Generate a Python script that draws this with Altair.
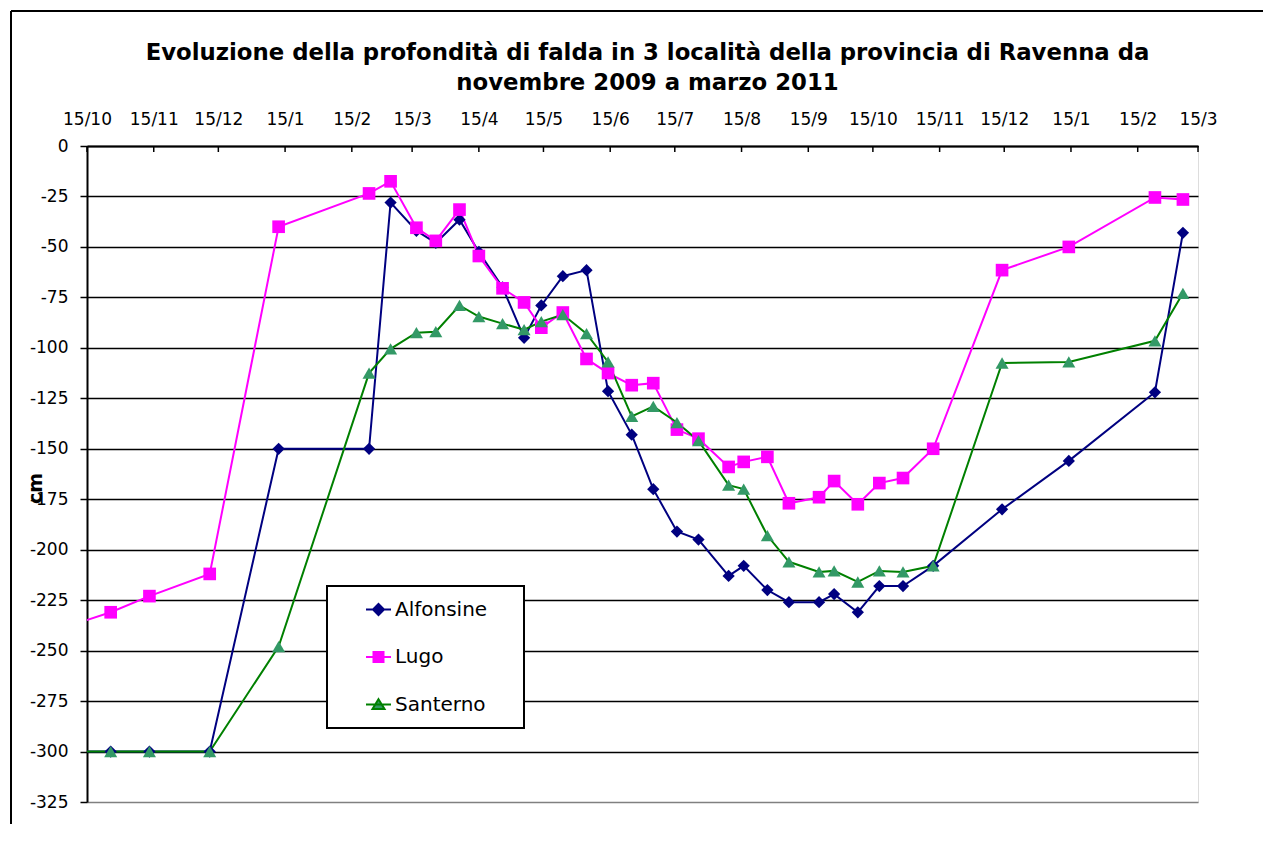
import altair as alt
import pandas as pd

# ---------------- data ----------------
names = ["Alfonsine", "Lugo", "Santerno"]

dates = ["2009-09-30", "2009-10-26", "2009-11-13", "2009-12-11", "2010-01-12",
         "2010-02-23", "2010-03-05", "2010-03-17", "2010-03-26", "2010-04-06",
         "2010-04-15", "2010-04-26", "2010-05-06", "2010-05-14", "2010-05-24",
         "2010-06-04", "2010-06-14", "2010-06-25", "2010-07-05", "2010-07-16",
         "2010-07-26", "2010-08-09", "2010-08-16", "2010-08-27", "2010-09-06",
         "2010-09-20", "2010-09-27", "2010-10-08", "2010-10-18", "2010-10-29",
         "2010-11-12", "2010-12-14", "2011-01-14", "2011-02-23", "2011-03-08"]

alfonsine = [-300, -300, -300, -300, -150, -150, -28, -42, -48, -36.5, -52.5,
             -70, -95, -79, -64.5, -61.5, -121.5, -143, -170, -191, -195,
             -213, -208, -220, -226, -226, -222, -231, -218, -218, -208,
             -180, -156, -122, -43]

lugo = [-240, -231, -223, -212, -40, -23.5, -17.5, -40.5, -47, -31.5, -54.5,
        -70.5, -77.5, -90, -82.5, -105.5, -112.5, -118.5, -117.5, -140.5, -145,
        -159, -156.5, -154, -177, -174, -166, -177.5, -167, -164.5, -150,
        -61.5, -50, -25.5, -26.5]

santerno = [-300, -300, -300, -300, -248, -112.5, -100.5, -92.5, -92, -79, -84.5,
            -88, -91, -87, -83.5, -93, -107, -134, -129, -137, -146,
            -168, -170, -193, -206, -211, -210.5, -216, -210.5, -211, -208,
            -107.5, -107, -96.5, -73]

tick_months = [(2009, 10), (2009, 11), (2009, 12), (2010, 1), (2010, 2), (2010, 3),
               (2010, 4), (2010, 5), (2010, 6), (2010, 7), (2010, 8), (2010, 9),
               (2010, 10), (2010, 11), (2010, 12), (2011, 1), (2011, 2), (2011, 3)]

y_ticks = list(range(-325, 1, 25))

title_lines = ["Evoluzione della profondità di falda in 3 località della provincia di Ravenna da",
               "novembre 2009 a marzo 2011"]

# ---------------- styles ----------------
line_colors = ["#000080", "#FF00FF", "#008000"]
marker_colors = ["#000080", "#FF00FF", "#339966"]
marker_shapes = ["diamond", "square", "triangle-up"]
marker_sizes = [150, 160, 170]
legend_paths = ["M-1,0H1M0,-0.44L0.44,0L0,0.44L-0.44,0Z",
                "M-1,0H1M-0.4,-0.4H0.4V0.4H-0.4Z",
                "M-1,0H1M0,-0.42L0.48,0.36H-0.48Z"]
FONT = "DejaVu Sans"

rows = []
for name, vals in zip(names, [alfonsine, lugo, santerno]):
    for d, v in zip(dates, vals):
        rows.append({"date": d, "value": v, "series": name})
df = pd.DataFrame(rows)

ticks_df = pd.DataFrame({"date": [f"{y:04d}-{m:02d}-15" for y, m in tick_months]})
one_df = pd.DataFrame({"k": [0]})

x_scale = alt.Scale(type="utc", domain=[alt.DateTime(year=2009, month=10, date=15, utc=True),
                                        alt.DateTime(year=2011, month=3, date=15, utc=True)])
x_axis = alt.Axis(orient="top", values=[alt.DateTime(year=y, month=m, date=15, utc=True) for y, m in tick_months],
                  format="%-d/%-m", labelFont=FONT, labelFontSize=17, labelColor="black",
                  labelPadding=22, labelBaseline="alphabetic", ticks=False, grid=False,
                  domainColor="black", domainWidth=2, labelOverlap=False, labelFlush=False,
                  title=None)
X = alt.X("date:T", scale=x_scale, axis=x_axis)

y_scale = alt.Scale(domain=[-325, 0], nice=False, zero=False)
y_axis = alt.Axis(values=y_ticks, grid=True, labelExpr="toString(datum.value)",
                  gridColor={"condition": {"test": "datum.value === -325", "value": "#808080"}, "value": "black"},
                  gridWidth=1.5, tickSize=7, tickColor="black", tickWidth=1.5,
                  domainColor="black", domainWidth=2,
                  labelFont=FONT, labelFontSize=17, labelColor="black", labelPadding=12,
                  title="cm", titleFont=FONT, titleFontSize=19, titleFontWeight="bold",
                  titleColor="black", titleAngle=270, titleX=-52, titleY=342,
                  titleAlign="center", titleBaseline="middle")
Y = alt.Y("value:Q", scale=y_scale, axis=y_axis)

line_layers = []
point_layers = []
for name, lc, shp, mc, sz in zip(names, line_colors, marker_shapes, marker_colors, marker_sizes):
    line_layers.append(
        alt.Chart(df).transform_filter(alt.datum.series == name)
        .mark_line(color=lc, strokeWidth=2, clip=True)
        .encode(x=X, y=Y))
    point_layers.append(
        alt.Chart(df).transform_filter(alt.datum.series == name)
        .mark_point(shape=shp, filled=True, size=sz, color=mc, opacity=1, clip=True)
        .encode(x=X, y=Y))

ticks = alt.Chart(ticks_df).mark_rule(color="black", strokeWidth=1.5).encode(
    x=X, y=alt.value(0), y2=alt.value(6))

frame_top = alt.Chart(one_df).mark_rule(color="black", strokeWidth=2).encode(
    x=alt.value(-76), x2=alt.value(1176), y=alt.value(-135))
frame_left = alt.Chart(one_df).mark_rule(color="black", strokeWidth=2).encode(
    x=alt.value(-76), y=alt.value(-135), y2=alt.value(678))

legend_box = alt.Chart(one_df).mark_rect(fill="white", stroke="black", strokeWidth=2).encode(
    x=alt.value(240), x2=alt.value(437), y=alt.value(440), y2=alt.value(582))

leg = alt.Legend(orient="none", legendX=278, legendY=450, title=None, padding=0,
                 direction="vertical", labelFont=FONT, labelFontSize=20, labelColor="black",
                 labelOffset=3, symbolSize=625, symbolStrokeWidth=2, rowPadding=23.5,
                 symbolOpacity=1)
legend_layer = alt.Chart(df).transform_filter("false").mark_point(filled=True, opacity=1).encode(
    fill=alt.Fill("series:N", scale=alt.Scale(domain=names, range=marker_colors), legend=leg),
    stroke=alt.Stroke("series:N", scale=alt.Scale(domain=names, range=line_colors), legend=leg),
    shape=alt.Shape("series:N", scale=alt.Scale(domain=names, range=legend_paths), legend=leg))

chart = alt.layer(*line_layers, *point_layers, legend_box, ticks, frame_top, frame_left, legend_layer).properties(
    width=1111, height=656,
    padding={"left": 2, "top": 2, "right": 0, "bottom": 0},
    title=alt.TitleParams(text=title_lines, font=FONT, fontSize=22.8, fontWeight="bold",
                          color="black", anchor="middle", frame="group", offset=10, lineHeight=30,
                          dx=5, dy=95),
).configure_view(stroke="#808080", strokeWidth=1.5).configure(font=FONT)

chart.save("out.html", embed_options={"renderer": "svg", "actions": False})
